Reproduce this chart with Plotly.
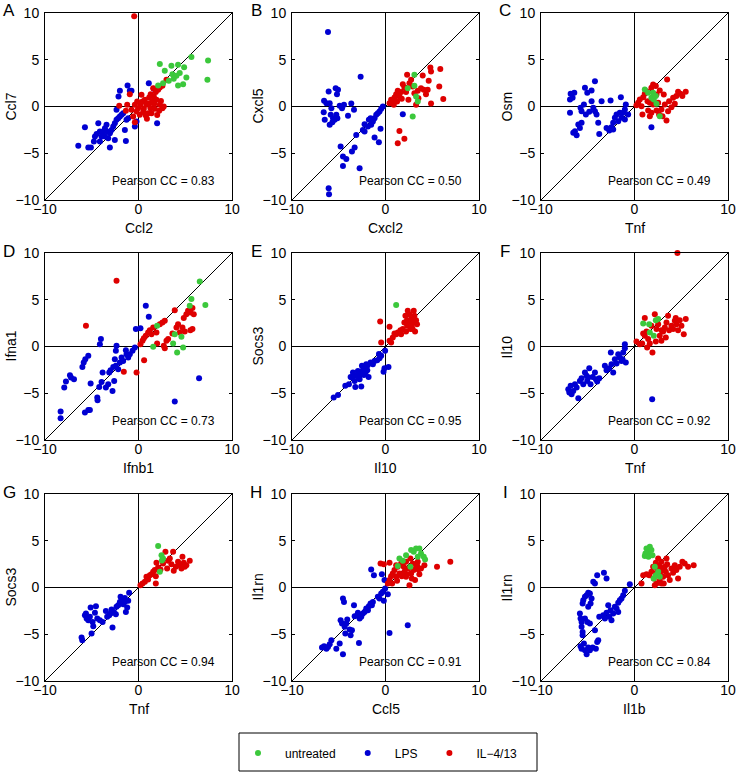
import plotly.graph_objects as go

# ---------------- data ----------------
panel_letters = ["A", "B", "C", "D", "E", "F", "G", "H", "I"]
x_labels = ["Ccl2", "Cxcl2", "Tnf", "Ifnb1", "Il10", "Tnf", "Tnf", "Ccl5", "Il1b"]
y_labels = ["Ccl7", "Cxcl5", "Osm", "Ifna1", "Socs3", "Il10", "Socs3", "Il1rn", "Il1rn"]
pearson_cc = ["0.83", "0.50", "0.49", "0.73", "0.95", "0.92", "0.94", "0.91", "0.84"]
group_names = ["untreated", "LPS", "IL\u22124/13"]
x_ticks = [-10, 0, 10]
y_ticks = [-10, -5, 0, 5, 10]

# Panel A
A_unt_x = [2.28, 2.81, 3.52, 4.23, 4.88, 5.66, 7.44, 7.37, 5.12, 4.77, 4.23, 3.63, 4.06, 3.24, 2.63, 2.1, 4.41, 3.77]
A_unt_y = [4.54, 3.82, 4.36, 4.46, 4.21, 5.29, 4.93, 2.86, 3.11, 2.39, 2.25, 3.46, 3.29, 2.75, 2.5, 2.25, 3.57, 2.96]
A_lps_x = [-6.44, -5.73, -5.37, -5.09, -4.77, -4.66, -4.48, -4.3, -4.13, -3.95, -3.77, -3.59, -3.42, -3.24, -3.06, -3.06, -2.88, -2.7, -2.53, -2.53, -2.35, -2.17, -1.99, -1.81, -1.64, -1.46, -1.35, -1.28, -1.1, -0.93, -0.75, -1.17, -1.99, -2.14, -2.35, 1.1, 1.64, 1.99, -0.39, -0.21, -3.59, -4.13, -3.35]
A_lps_y = [-4.21, -2.21, -4.39, -4.39, -3.75, -3.21, -2.93, -1.79, -3.75, -3.21, -2.68, -2.32, -1.96, -3.39, -4.39, -2.86, -2.5, -2.14, -3.57, -1.79, -1.43, -1.25, -1.07, -0.89, -0.71, -2.5, -3.68, -1.43, -1.25, 1.68, 1.68, 2.25, 1.68, 1.07, -0.36, 2.5, 1.89, -1.79, -2.14, -1.61, -3.21, -2.68, -2.68]
A_il_x = [-0.46, -2.06, -1.35, -1.21, -0.93, -0.39, -0.57, -0.39, -0.21, -0.04, 0.21, 0.43, 0.57, 0.85, 1.03, 0.78, 1.28, 1.49, 1.64, 1.85, 2.1, 2.28, 2.56, 1.92, 2.28, 2.56, 2.7, 2.21, 1.74, 1.39, 2.99, 0.32, 1.14, 0.14, 1.21, 0.68, 1.57, -0.14, -0.75, 0.5, 1.0, 1.7, 2.0, 0.9, 2.4, 1.3]
A_il_y = [9.64, 0.07, -0.46, 0.18, 1.32, 0.18, -1.07, -1.68, -0.54, -0.18, 0.18, 0.54, -0.25, 0.18, -0.71, -0.96, -0.18, 0.54, 1.07, 1.54, 1.79, 2.04, 2.21, 0.71, 0.18, -0.18, 0.0, -0.46, -0.25, -0.71, 2.86, 1.25, 0.96, -0.89, 0.36, 0.71, 1.96, 0.54, -0.36, -0.6, 0.3, 0.3, -0.9, -1.3, 0.6, 1.3]

# Panel B
B_unt_x = [3.09, 3.09, 3.27, 3.45, 2.91, 2.38]
B_unt_y = [3.39, 2.21, 1.07, 0.54, -1.07, 1.96]
B_lps_x = [-6.15, -6.08, -6.04, -6.57, -6.32, -6.61, -6.5, -6.08, -5.97, -5.79, -5.86, -5.61, -5.44, -5.97, -5.68, -5.33, -5.08, -5.19, -4.9, -4.65, -4.44, -5.26, -5.15, -4.01, -3.66, -3.37, -2.66, -4.8, -4.55, -4.19, -4.55, -3.59, -3.3, -2.77, -3.13, -2.42, -2.24, -2.24, -1.88, -1.78, -1.53, -1.35, -1.17, -0.99, -0.82, -0.64, -0.46, -0.28, -1.17, -0.71, -0.53, 1.85, -1.6]
B_lps_y = [7.96, -8.75, -9.39, 0.61, 0.36, -0.61, -1.43, 1.61, 0.36, -0.18, -0.89, -1.25, -1.43, -1.96, -1.68, 1.96, 1.79, 1.32, 0.07, -0.18, 0.18, -0.89, -1.25, -1.0, 0.32, -0.36, 3.18, -4.29, -5.36, -5.61, -6.36, -4.82, -4.39, -6.61, -3.04, -2.5, -1.89, -2.68, -2.14, -1.43, -1.96, -1.61, -1.25, -0.89, -0.71, -0.54, -0.25, 0.0, -3.32, -3.82, -2.39, -0.82, -1.25]
B_il_x = [0.43, 0.6, 0.78, 0.96, 1.14, 1.31, 1.49, 1.67, 1.85, 2.02, 2.31, 2.56, 2.74, 2.91, 3.09, 2.45, 3.27, 3.45, 3.8, 3.98, 4.09, 4.33, 4.51, 4.62, 4.8, 4.87, 4.87, 5.75, 5.86, 6.18, 1.49, 1.31, 2.02, 1.24, 0.89, 1.74, 3.52, 2.2]
B_il_y = [0.36, 0.71, 0.54, 0.96, 1.32, 1.68, 1.07, 1.54, 2.39, 2.04, 3.39, 2.5, 2.86, 2.14, 1.43, 0.71, 0.18, 1.68, 1.96, 3.32, 1.79, 1.32, 1.79, 2.75, 4.18, 3.75, 0.32, 2.14, 4.0, 0.79, -2.61, -3.93, -3.46, 0.54, 0.18, 0.82, 0.89, 1.54]

# Panel C
C_unt_x = [1.1, 1.46, 1.81, 2.06, 2.35, 1.99, 2.7, 2.28]
C_unt_y = [1.82, 1.46, 0.93, 0.75, 0.29, 1.46, -1.04, 1.11]
C_lps_x = [-6.83, -6.44, -6.9, -6.62, -6.9, -6.55, -6.37, -6.19, -6.01, -5.66, -5.84, -5.3, -4.59, -4.23, -5.05, -5.77, -5.66, -5.41, -5.2, -4.84, -4.59, -4.41, -4.23, -4.06, -3.88, -3.77, -3.52, -2.99, -2.7, -2.56, -2.46, -2.28, -2.28, -2.1, -1.92, -1.74, -1.57, -1.39, -1.46, -1.21, -1.03, -0.93, -1.03, -0.68, 1.81]
C_lps_y = [1.36, 1.46, 0.75, 0.93, -0.68, -2.82, -2.64, -3.07, -1.93, -1.75, -2.29, 2.0, 1.71, 2.71, 1.46, -0.14, -0.5, 0.21, -0.86, -0.57, 0.57, -0.14, -0.5, -0.86, -1.75, -2.93, 0.57, -2.29, -2.57, 0.64, -2.21, -1.75, -2.46, -1.21, -0.86, -1.57, -0.68, -1.21, 1.0, -0.68, -0.32, 0.21, -1.39, -0.86, -2.21]
C_il_x = [0.21, 0.39, 0.57, 0.75, 0.85, 0.93, 1.1, 1.28, 1.39, 1.46, 1.64, 1.81, 1.99, 1.99, 2.28, 2.35, 2.53, 2.7, 2.88, 3.13, 3.24, 3.42, 3.49, 3.7, 3.95, 4.13, 4.31, 4.48, 4.66, 4.91, 5.12, 5.48, 2.99, 3.59, 2.35, 1.81, 2.63, 1.64]
C_il_y = [0.14, 0.39, 0.75, 0.04, -0.86, 1.0, 1.36, 1.64, 0.57, -0.43, -1.04, 2.0, 2.36, 0.21, 2.18, -0.43, 0.39, 1.71, -0.32, 1.29, 0.21, -1.5, 2.89, 0.57, -0.07, 0.93, 0.29, 1.11, 1.57, 1.36, 1.11, 1.57, -1.04, -0.5, 1.29, -0.68, -0.86, 0.39]

# Panel D
D_unt_x = [1.57, 3.7, 3.88, 4.13, 4.59, 4.77, 5.48, 5.66, 6.55, 7.15, 1.99]
D_unt_y = [-0.04, 0.32, 1.32, -0.64, 1.04, -0.11, 4.36, 5.07, 6.96, 4.43, 2.21]
D_lps_x = [-8.33, -8.33, -7.94, -7.76, -7.33, -7.22, -6.9, -6.0, -5.86, -5.69, -5.37, -5.73, -5.37, -5.2, -5.12, -4.41, -4.38, -4.2, -3.95, -3.84, -4.13, -4.02, -3.49, -3.24, -3.13, -2.99, -2.78, -2.7, -2.6, -2.53, -2.42, -2.35, -2.42, -2.17, -1.99, -1.81, -1.64, -1.35, -1.28, -1.1, -0.93, -0.64, -0.28, 0.21, 0.78, 1.1, 3.88, 6.48, -0.39]
D_lps_y = [-6.96, -7.68, -4.39, -3.75, -3.07, -3.32, -3.5, -2.18, -1.71, -1.36, -1.0, -7.07, -6.79, -6.79, -3.96, -5.46, -5.75, -4.32, -3.79, -2.79, 0.25, 0.79, -4.39, -4.04, -2.79, -2.54, -4.75, -2.18, -3.68, -1.36, -0.46, 0.07, -2.07, -2.43, -1.71, -1.18, -1.54, -0.39, -0.82, -1.18, -0.82, -0.46, 1.86, 1.96, 4.36, 3.18, -5.89, -3.39, -0.11]
D_il_x = [-2.35, -5.62, -1.57, -0.21, 0.6, 0.21, 0.43, 0.57, 0.78, 1.03, 1.21, 1.39, 1.57, 1.92, 2.28, 2.56, 2.81, 1.99, 2.7, 2.81, 2.99, 3.17, 3.63, 3.88, 4.23, 4.41, 4.7, 4.84, 5.12, 5.3, 5.55, 5.77, 5.91, 5.55, 5.77, 4.95, 4.06]
D_il_y = [7.04, 2.21, -2.71, -2.79, -1.46, 0.25, 0.61, 0.89, 1.14, 1.5, 1.75, 1.32, 2.04, 1.5, 2.39, 2.57, 2.75, 0.32, 0.07, -0.18, 0.61, 0.79, 1.39, 3.89, 2.39, 1.5, 2.04, 3.04, 3.46, 3.82, 3.64, 4.11, 3.46, 1.75, 1.86, 1.61, 2.04]

# Panel E
E_unt_x = [1.14]
E_unt_y = [4.43]
E_lps_x = [-5.54, -5.08, -3.91, -3.73, -3.59, -3.48, -3.3, -3.23, -3.13, -2.95, -2.77, -2.66, -2.59, -2.52, -2.42, -2.31, -2.24, -2.13, -2.06, -1.95, -1.81, -1.6, -1.35, -1.17, -0.89, -0.64, -0.46, -0.21, -0.11, 0.32, -0.04, -3.02, -4.3, -2.9, -1.9, -0.7]
E_lps_y = [-5.46, -5.18, -4.04, -3.25, -3.32, -2.79, -3.68, -4.32, -3.14, -2.61, -3.5, -2.96, -4.29, -2.07, -2.54, -3.04, -2.25, -2.79, -1.89, -2.54, -3.25, -1.71, -1.89, -1.54, -1.46, -1.25, -1.0, -2.71, -2.32, -2.18, -0.46, -3.14, -4.2, -3.2, -2.0, -0.8]
E_il_x = [-0.57, -0.46, 0.43, 0.43, 0.6, 0.78, 0.96, 1.14, 1.31, 1.6, 1.85, 2.02, 2.13, 2.31, 2.38, 2.45, 2.56, 2.74, 2.81, 2.91, 3.02, 3.09, 3.16, 3.27, 3.37, 2.66, 2.2, 1.67, 2.9, 2.3]
E_il_y = [2.68, 0.43, 2.11, 0.61, 0.43, 0.96, 1.39, 1.32, 1.5, 1.75, 1.86, 2.57, 3.29, 2.21, 3.82, 2.68, 3.46, 2.93, 2.21, 2.57, 3.82, 3.29, 1.61, 2.82, 2.39, 1.86, 1.61, 1.32, 1.86, 2.82]

# Panel F
F_unt_x = [0.93, 1.57, 2.06, 2.28, 2.53, 1.64]
F_unt_y = [2.46, 2.39, 1.14, 2.82, 2.93, 1.5]
F_lps_x = [-7.08, -6.97, -6.83, -6.73, -6.55, -6.37, -6.19, -6.01, -5.84, -5.66, -5.48, -5.3, -5.12, -5.05, -4.84, -4.7, -4.48, -4.23, -4.13, -3.99, -3.77, -3.17, -2.99, -2.7, -2.53, -2.46, -2.28, -2.1, -1.92, -1.74, -1.57, -1.39, -1.21, -1.03, -1.03, -0.93, -1.28, 1.89, -4.95]
F_lps_y = [-4.57, -4.93, -4.21, -5.11, -4.75, -4.04, -4.39, -5.54, -3.68, -3.39, -4.04, -2.79, -3.14, -3.68, -2.32, -4.04, -3.25, -2.79, -3.5, -3.75, -3.39, -2.07, -2.54, -2.32, -0.64, -1.89, -2.79, -1.36, -1.82, -0.82, -1.18, -1.54, -0.64, 0.25, -0.18, -1.71, -1.36, -5.64, -3.32]
F_il_x = [4.59, 0.21, 0.57, 0.82, 0.93, 1.1, 1.1, 1.28, 1.35, 1.46, 1.64, 1.81, 1.92, 2.17, 2.28, 2.35, 2.53, 2.7, 2.88, 3.06, 3.24, 3.42, 3.59, 3.7, 3.95, 4.13, 4.31, 4.48, 4.66, 4.84, 5.02, 5.27, 5.48, 4.41, 3.35, 2.88]
F_il_y = [10.0, 0.54, 0.25, 0.32, 1.39, 3.04, 1.14, 1.61, -0.11, 0.79, 0.32, 2.21, -0.64, 3.46, 0.54, 1.86, 2.39, 1.14, 0.61, 1.61, 2.04, 2.57, 3.29, 1.75, 2.21, 1.86, 2.75, 2.39, 1.75, 2.82, 2.21, 1.32, 2.93, 3.04, 0.96, 1.75]

# Panel G
G_unt_x = [2.1, 2.46, 2.63, 2.28, 2.5]
G_unt_y = [4.43, 3.46, 3.11, 1.68, 2.9]
G_lps_x = [-6.09, -6.01, -5.73, -5.55, -5.62, -5.37, -5.2, -5.12, -5.02, -4.91, -4.84, -4.66, -4.55, -4.41, -4.13, -3.84, -3.35, -3.13, -2.99, -2.88, -2.78, -2.63, -2.42, -2.35, -2.17, -1.99, -1.92, -1.81, -1.64, -1.46, -1.35, -1.21, -1.1, -1.0, -1.46, -3.49]
G_lps_y = [-5.36, -5.64, -2.96, -3.32, -2.79, -3.5, -3.14, -2.14, -4.93, -3.68, -4.14, -2.71, -2.0, -3.32, -3.5, -3.68, -3.14, -2.96, -2.79, -2.36, -4.29, -2.61, -2.86, -2.07, -1.89, -1.54, -1.0, -1.36, -1.79, -1.54, -2.61, -2.14, -1.43, -0.57, -1.11, -2.5]
G_il_x = [0.21, 0.43, 0.68, 0.85, 1.03, 1.21, 1.39, 1.57, 1.74, 1.85, 1.85, 1.92, 2.1, 2.35, 2.63, 2.88, 3.17, 3.35, 3.52, 3.7, 3.77, 3.99, 4.23, 4.41, 4.59, 4.7, 4.84, 4.95, 5.12, 5.48, 3.06]
G_il_y = [0.25, 0.43, 0.61, 1.14, 0.86, 1.32, 1.43, 1.68, 1.86, 1.21, 0.43, 2.64, 2.14, 1.93, 2.57, 3.82, 2.86, 3.11, 2.5, 3.82, 1.79, 2.21, 2.75, 2.39, 2.04, 3.29, 2.64, 2.21, 2.39, 2.86, 2.04]

# Panel H
H_unt_x = [1.49, 1.85, 1.31, 2.66, 2.74, 3.02, 3.27, 3.62, 3.8, 4.09, 4.23, 3.45, 2.2]
H_unt_y = [3.11, 2.86, 2.29, 2.21, 4.0, 3.82, 4.18, 4.18, 3.64, 3.29, 3.0, 3.29, 3.46]
H_lps_x = [-6.79, -6.57, -6.32, -6.15, -5.97, -5.79, -5.26, -4.9, -4.55, -4.8, -4.65, -4.55, -4.44, -4.37, -4.3, -4.19, -4.09, -3.84, -3.73, -3.59, -3.37, -3.3, -3.02, -2.95, -2.84, -2.77, -2.59, -2.42, -2.24, -2.06, -1.88, -1.78, -1.6, -1.46, -1.35, -1.53, -1.24, -0.82, -0.64, -0.46, -0.39, -0.28, -0.18, -0.11, -0.04, 0.25, 0.43, 2.38]
H_lps_y = [-6.43, -6.29, -6.54, -6.36, -6.07, -5.64, -6.54, -6.0, -7.14, -3.5, -3.86, -1.18, -1.54, -4.21, -4.93, -3.86, -3.43, -4.5, -5.11, -4.57, -1.89, -3.07, -2.96, -2.71, -5.93, -3.32, -3.14, -2.79, -2.61, -2.25, -2.43, -2.0, -1.71, -1.89, -1.54, 1.93, 1.32, -1.0, -1.18, -0.64, 1.43, -0.46, -1.43, 0.79, -0.11, -0.71, -4.86, -4.04]
H_il_x = [-0.53, -0.18, 0.43, 0.25, 0.43, 0.6, 0.71, 0.78, 0.96, 1.14, 1.24, 1.31, 1.49, 1.67, 1.74, 1.95, 2.02, 2.2, 2.31, 2.45, 2.56, 2.66, 2.74, 2.81, 2.91, 3.02, 3.16, 3.27, 3.37, 3.52, 3.62, 3.8, 4.16, 5.51, 6.93, 1.14, 2.2, 3.45]
H_il_y = [2.57, 2.5, 2.64, 0.43, 0.79, 1.21, 0.43, 1.5, 1.86, 1.14, 0.71, 2.21, 1.5, 2.57, 1.21, 2.21, 1.68, 2.75, 1.43, 2.04, 0.25, 3.11, 1.5, 0.96, 2.57, 1.86, 0.79, 2.14, 2.39, 1.93, 1.43, 2.04, 2.39, 2.21, 2.75, 2.39, 1.14, 2.75]

# Panel I
I_unt_x = [1.1, 1.28, 1.46, 1.64, 1.81, 1.17, 1.5, 1.92, 2.06, 2.28, 2.53, 2.7, 2.17]
I_unt_y = [3.36, 4.18, 3.82, 4.36, 4.0, 3.64, 3.29, 3.46, 0.96, 1.32, 1.68, 1.14, 2.21]
I_lps_x = [-5.84, -5.77, -5.66, -5.66, -5.55, -5.55, -5.77, -5.66, -5.41, -5.3, -5.12, -4.95, -4.77, -4.48, -4.13, -3.99, -3.88, -5.55, -5.48, -5.3, -5.12, -4.95, -4.77, -4.59, -4.7, -4.95, -5.3, -5.05, -4.77, -4.41, -4.23, -3.99, -3.27, -2.99, -4.23, -3.77, -3.35, -3.17, -2.99, -2.81, -2.7, -2.56, -2.46, -2.28, -2.1, -1.92, -1.74, -1.74, -1.57, -1.39, -1.21, -1.03, -0.5]
I_lps_y = [-2.79, -3.32, -3.68, -4.21, -4.75, -5.11, -6.29, -6.54, -6.0, -6.71, -7.14, -6.43, -6.71, -6.43, -6.54, -5.82, -5.64, -1.71, -1.36, -1.0, -0.82, -0.57, -0.64, -1.18, -1.71, -2.07, -3.32, -3.68, -3.86, 0.61, 0.43, 1.32, 1.57, 0.96, -4.57, -3.14, -2.96, -3.32, -2.71, -1.89, -3.14, -2.43, -3.5, -2.79, -2.07, -2.25, -2.61, -1.64, -1.36, -1.18, -0.82, -0.36, 0.36]
I_il_x = [0.75, 0.93, 1.28, 1.57, 1.81, 1.99, 2.06, 2.17, 2.28, 2.35, 2.42, 2.53, 2.63, 2.7, 2.78, 2.88, 2.99, 3.06, 3.13, 3.24, 3.35, 3.49, 3.59, 3.77, 3.95, 4.13, 4.31, 4.48, 4.66, 4.84, 5.12, 5.37, 5.73, 6.33, 3.42, 2.88, 2.35]
I_il_y = [0.43, 1.32, 1.43, 1.32, 1.68, 2.21, 0.96, 0.25, 2.64, 1.57, 2.04, 3.11, 2.39, 0.71, 1.68, 2.75, 2.04, 1.14, 0.43, 2.21, 1.68, 2.5, 1.32, 0.79, 2.04, 1.57, 2.39, 1.86, 0.96, 2.21, 2.75, 2.57, 2.21, 2.39, 3.11, 0.43, 0.43]

# ---------------- figure ----------------
W, H = 738, 773
FONT = "Liberation Sans, Arial, sans-serif"
C_UNT = "rgb(60,200,60)"
C_LPS = "rgb(0,0,210)"
C_IL = "rgb(222,0,0)"

panel_data = [
    (A_unt_x, A_unt_y, A_lps_x, A_lps_y, A_il_x, A_il_y),
    (B_unt_x, B_unt_y, B_lps_x, B_lps_y, B_il_x, B_il_y),
    (C_unt_x, C_unt_y, C_lps_x, C_lps_y, C_il_x, C_il_y),
    (D_unt_x, D_unt_y, D_lps_x, D_lps_y, D_il_x, D_il_y),
    (E_unt_x, E_unt_y, E_lps_x, E_lps_y, E_il_x, E_il_y),
    (F_unt_x, F_unt_y, F_lps_x, F_lps_y, F_il_x, F_il_y),
    (G_unt_x, G_unt_y, G_lps_x, G_lps_y, G_il_x, G_il_y),
    (H_unt_x, H_unt_y, H_lps_x, H_lps_y, H_il_x, H_il_y),
    (I_unt_x, I_unt_y, I_lps_x, I_lps_y, I_il_x, I_il_y),
]

col_left = [45, 292, 541]
row_top = [13, 253, 494]
SIZE = 187

fig = go.Figure()
layout = dict(
    template="none",
    width=W, height=H,
    margin=dict(l=0, r=0, t=0, b=0, pad=0, autoexpand=False),
    paper_bgcolor="white", plot_bgcolor="white",
    font=dict(family=FONT, color="black", size=14),
    showlegend=True,
)
annotations = []
shapes = []

for i in range(9):
    r, c = divmod(i, 3)
    n = "" if i == 0 else str(i + 1)
    xa, ya = "x" + n, "y" + n
    L, T = col_left[c], row_top[r]
    axis_common = dict(
        range=[-10, 10], showgrid=False, zeroline=True, zerolinecolor="black",
        zerolinewidth=1, showline=True, linecolor="black", linewidth=1,
        mirror="ticks", ticks="inside", ticklen=3, tickcolor="black",
        tickfont=dict(size=14, color="black", family=FONT), fixedrange=True,
        automargin=False,
    )
    layout["xaxis" + n] = dict(axis_common, domain=[L / W, (L + SIZE) / W],
                               anchor=ya, tickvals=x_ticks, ticklabelstandoff=-4)
    layout["yaxis" + n] = dict(axis_common, domain=[1 - (T + SIZE) / H, 1 - T / H],
                               anchor=xa, tickvals=y_ticks, ticklabelstandoff=2)

    ux, uy, lx, ly, ix, iy = panel_data[i]
    show = i == 0
    fig.add_trace(go.Scatter(x=lx, y=ly, mode="markers", name=group_names[1],
                             marker=dict(color=C_LPS, size=6), xaxis=xa, yaxis=ya,
                             showlegend=show, legendgroup="lps", legendrank=2,
                             cliponaxis=False))
    fig.add_trace(go.Scatter(x=ix, y=iy, mode="markers", name=group_names[2],
                             marker=dict(color=C_IL, size=6), xaxis=xa, yaxis=ya,
                             showlegend=show, legendgroup="il", legendrank=3,
                             cliponaxis=False))
    fig.add_trace(go.Scatter(x=ux, y=uy, mode="markers", name=group_names[0],
                             marker=dict(color=C_UNT, size=6), xaxis=xa, yaxis=ya,
                             showlegend=show, legendgroup="unt", legendrank=1,
                             cliponaxis=False))

    shapes.append(dict(type="line", xref=xa, yref=ya, x0=-10, y0=-10, x1=10, y1=10,
                       line=dict(color="black", width=1), layer="below"))

    annotations.append(dict(xref=xa, yref=ya, x=-3, y=-8, xanchor="left",
                            yanchor="middle", showarrow=False,
                            text="Pearson CC = " + pearson_cc[i],
                            font=dict(size=12, family=FONT, color="black")))
    annotations.append(dict(xref="paper", yref="paper", x=(L + SIZE / 2) / W,
                            y=1 - (T + SIZE + 28) / H, xanchor="center",
                            yanchor="middle", showarrow=False, text=x_labels[i],
                            font=dict(size=14, family=FONT, color="black")))
    annotations.append(dict(xref="paper", yref="paper", x=(L - 35) / W,
                            y=1 - (T + SIZE / 2) / H, xanchor="center",
                            yanchor="middle", showarrow=False, text=y_labels[i],
                            textangle=-90,
                            font=dict(size=14, family=FONT, color="black")))
    annotations.append(dict(xref="paper", yref="paper", x=(L - 36) / W,
                            y=1 - (T - 2) / H, xanchor="center",
                            yanchor="middle", showarrow=False, text=panel_letters[i],
                            font=dict(size=17, family=FONT, color="black")))

# legend frame
shapes.append(dict(type="rect", xref="paper", yref="paper",
                   x0=239 / W, x1=537 / W, y0=1 - 771 / H, y1=1 - 733 / H,
                   line=dict(color="black", width=1), fillcolor="rgba(0,0,0,0)"))

layout["annotations"] = annotations
layout["shapes"] = shapes
layout["legend"] = dict(orientation="h", x=231 / W, xanchor="left",
                        y=1 - 753 / H, yanchor="middle", itemwidth=44,
                        font=dict(size=12, family=FONT, color="black"),
                        bgcolor="rgba(0,0,0,0)", borderwidth=0,
                        traceorder="normal")
fig.update_layout(**layout)
fig.write_html("out.html", config={"displayModeBar": False},
               post_script="document.body.style.margin='0';")
